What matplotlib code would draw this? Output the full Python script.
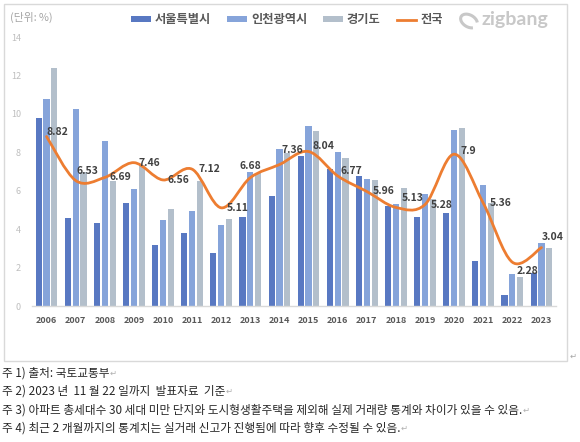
import numpy as np
import matplotlib.pyplot as plt
from matplotlib.path import Path
from matplotlib.patches import PathPatch, Rectangle, Arc

plt.rcParams['font.family'] = ['Noto Sans CJK KR', 'DejaVu Sans']

years = [str(y) for y in range(2006, 2024)]
seoul = [9.81, 4.58, 4.30, 5.36, 3.15, 3.82, 2.76, 4.65, 5.73, 7.81,
         7.12, 6.77, 5.19, 4.65, 4.86, 2.34, 0.59, 1.73]
incheon = [10.75, 10.26, 8.60, 6.08, 4.48, 4.94, 4.19, 6.97, 8.19, 9.39,
           8.04, 6.60, 5.30, 5.83, 9.17, 6.29, 1.65, 3.27]
gyeonggi = [12.41, 6.99, 6.51, 7.34, 5.07, 6.51, 4.54, 6.90, 7.98, 9.11,
            7.69, 6.56, 6.15, 5.56, 9.24, 5.38, 1.53, 3.00]
national = [8.82, 6.53, 6.69, 7.46, 6.56, 7.12, 5.11, 6.68, 7.36, 8.04,
            6.77, 5.96, 5.13, 5.28, 7.90, 5.36, 2.28, 3.04]
series_names = ['서울특별시', '인천광역시', '경기도', '전국']
notes = [
    '주 1) 출처: 국토교통부',
    '주 2) 2023 년  11 월 22 일까지  발표자료  기준',
    '주 3) 아파트 총세대수 30 세대 미만 단지와 도시형생활주택을 제외해 실제 거래량 통계와 차이가 있을 수 있음.',
    '주 4) 최근 2 개월까지의 통계치는 실거래 신고가 진행됨에 따라 향후 수정될 수 있음.',
]

# label nudges in pixels (dx, dy), like the hand-moved labels in the original
label_nudge = [(0, 5), (1, 10), (5, 0), (5, 0), (4, 0), (6, 0), (5, 0), (-11, 12), (2, 15),
               (4, 6), (3, 5), (6, 0), (6, 9), (6, 0), (6, 3), (6, 0), (4, -9), (0, 11)]

W, H = 580, 442
fig = plt.figure(figsize=(W / 100, H / 100), dpi=100)
ax = fig.add_axes([32 / W, 1 - 306 / H, (556 - 32) / W, (306 - 37) / H])

x = np.arange(len(years))
step, bw = 0.27, 0.21
b1 = ax.bar(x - step, seoul, bw, color='#5878c2', zorder=2)
b2 = ax.bar(x, incheon, bw, color='#86a4da', zorder=2)
b3 = ax.bar(x + step, gyeonggi, bw, color='#b3bfcb', zorder=2)

# excel-style smoothed line (bezier through the points)
pts = np.column_stack([x, national]).astype(float)
ext = np.vstack([pts[0], pts, pts[-1]])
verts = [tuple(pts[0])]
codes = [Path.MOVETO]
for i in range(len(pts) - 1):
    p0, p1, p2, p3 = ext[i], ext[i + 1], ext[i + 2], ext[i + 3]
    c1 = p1 + (p2 - p0) / 6
    c2 = p2 - (p3 - p1) / 6
    verts += [tuple(c1), tuple(c2), tuple(p2)]
    codes += [Path.CURVE4] * 3
ax.add_patch(PathPatch(Path(verts, codes), fill=False, ec='#ed7d31', lw=2, zorder=3,
                       capstyle='round'))
line_handle, = ax.plot([], [], color='#ed7d31', lw=2)

for xi, v, (dx, dy) in zip(x, national, label_nudge):
    ax.annotate(f'{v:g}', (xi, v), xytext=(dx * 0.72, dy * 0.72), textcoords='offset points',
                ha='left', va='center', fontsize=7.5, fontweight='bold', color='#404040', zorder=4)

ax.set_xlim(-0.5, len(years) - 0.5)
ax.set_ylim(0, 14)
ax.set_yticks(range(0, 15, 2))
ax.set_xticks(x)
ax.set_xticklabels(years)
ax.tick_params(axis='y', length=0, labelsize=6.5, labelcolor='#bfbfbf', pad=8)
ax.tick_params(axis='x', length=0, labelsize=6.5, labelcolor='#595959', pad=7)
for t in ax.get_xticklabels():
    t.set_fontweight('bold')
for s in ['top', 'right', 'left']:
    ax.spines[s].set_visible(False)
ax.spines['bottom'].set_color('#d9d9d9')
ax.spines['bottom'].set_linewidth(1)
ax.set_facecolor('none')

fig.text(10 / W, 1 - 17 / H, '(단위: %)', fontsize=7.8, color='#a6a6a6', va='center')

leg = fig.legend([b1, b2, b3, line_handle], series_names, ncol=4, loc='center',
                 bbox_to_anchor=(287 / W, 1 - 20 / H),
                 frameon=False, fontsize=8.8, handlelength=1.6, handleheight=0.4,
                 handletextpad=0.35, columnspacing=1.3, borderaxespad=0)
for t in leg.get_texts():
    t.set_color('#595959')
    t.set_fontweight('bold')

# zigbang logo
fig.text(481 / W, 1 - 20 / H, 'zigbang', fontsize=14, color='#c8c8c8', va='center',
         family='Lato', fontweight='bold')
fig.patches.append(Arc((469, H - 21), 18, 12, angle=-30, theta1=20, theta2=330,
                       transform=None, ec='#c8c8c8', lw=2.2, figure=fig))

# chart frame
fig.patches.append(Rectangle((4 / W, 1 - 361 / H), (567 - 4) / W, (361 - 4) / H,
                             transform=fig.transFigure, fill=False, ec='#d9d9d9', lw=1,
                             figure=fig))
fig.text(573 / W, 1 - 356 / H, '↵', fontsize=6, color='#a6a6a6', va='center', ha='center')

fig.canvas.draw()
r = fig.canvas.get_renderer()
for i, n in enumerate(notes):
    y = 1 - (373 + 18.5 * i) / H
    t = fig.text(2 / W, y, n, fontsize=8.4, color='#262626', va='center')
    bb = t.get_window_extent(r)
    fig.text(bb.x1 / W, y, '↵', fontsize=6, color='#b0b0b0', va='center')

fig.savefig('out.png', dpi=100)
